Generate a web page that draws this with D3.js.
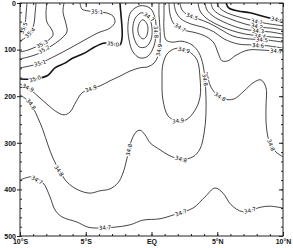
<!DOCTYPE html>
<html>
<head>
<meta charset="utf-8">
<script src="https://cdn.jsdelivr.net/npm/d3@7"></script>
<style>
  body { margin: 0; background: #fff; }
  svg { display: block; }
  .axis text { font-family: "Liberation Sans", Arial, sans-serif; font-weight: bold; font-size: 7px; fill: #111; }
  .axis path, .axis line { stroke: #222; }
  .clabel { font-family: "DejaVu Sans", sans-serif; font-size: 5.5px; fill: #000; }
</style>
</head>
<body>
<svg id="chart" width="293" height="248"></svg>
<script>
// salinity section 10S-10N, upper 500 m
var latTicks = [-10, -5, 0, 5, 10]
var latLabels = ['10°S', '5°S', 'EQ', '5°N', '10°N']
var depthTicks = [0, 100, 200, 300, 400, 500]

// each contour as [latitude, depth]
var s355 = [[-9.47, 0], [-9.54, 24], [-9.62, 45], [-9.85, 60], [-10, 64]]
var s354 = [[-8.78, 0], [-8.86, 24], [-8.94, 45], [-9.24, 64], [-9.62, 75], [-10, 82]]
var s353 = [[-7.95, 0], [-8.02, 19], [-7.95, 41], [-7.57, 58], [-7.49, 69], [-7.95, 82], [-8.63, 92], [-9.39, 101], [-10, 105]]
var s352 = [[-6.65, 0], [-6.73, 19], [-6.5, 45], [-6.43, 62], [-6.96, 79], [-7.72, 94], [-8.63, 109], [-9.39, 116], [-10, 120]]
var s351 = [[-5.44, 0], [-5.29, 13], [-4.83, 17], [-4.14, 19], [-3.46, 21], [-2.93, 28], [-2.78, 41], [-3.16, 54], [-4.07, 64],
  [-5.06, 79], [-6.2, 97], [-7.34, 114], [-8.48, 129], [-9.24, 135], [-10, 139]]
var s350 = [[-10, 163], [-8.86, 163], [-7.87, 155], [-7.34, 139], [-6.58, 129], [-5.97, 118], [-5.06, 107], [-4.3, 94],
  [-3.54, 86], [-2.93, 88], [-2.4, 90], [-2.24, 75], [-2.24, 54], [-2.32, 26], [-2.4, 0]]
var s349 = [[-10, 174], [-9.39, 182], [-8.63, 200], [-7.87, 219], [-7.19, 234], [-6.65, 240], [-6.2, 234], [-5.74, 212],
  [-5.29, 193], [-4.68, 185], [-3.92, 178], [-3.16, 167], [-2.4, 157], [-1.63, 146], [-0.87, 139], [-0.27, 137],
  [0.19, 129], [0.49, 114], [0.65, 90], [0.65, 58], [0.57, 26], [0.57, 0]]
var s348 = [[-10, 197], [-9.47, 208], [-9.01, 225], [-8.63, 247], [-8.25, 273], [-7.87, 305], [-7.49, 333], [-7.03, 358],
  [-6.43, 384], [-5.59, 401], [-4.68, 408], [-3.92, 403], [-3.16, 399], [-2.55, 386], [-2.17, 365], [-1.86, 333],
  [-1.56, 298], [-1.18, 277], [-0.87, 273], [-0.49, 283], [-0.11, 300], [0.65, 315], [1.41, 328], [2.24, 335],
  [3.16, 330], [3.69, 313], [3.99, 281], [4.14, 240], [4.14, 200], [4.07, 165], [3.92, 133], [3.61, 107],
  [3.08, 90], [2.32, 82], [1.56, 84], [1.1, 79], [0.95, 58], [0.95, 26], [0.95, 0]]
var s349oval = [[1.94, 97], [2.78, 103], [3.46, 122], [3.69, 161], [3.69, 202], [3.31, 230], [2.62, 251], [1.86, 253],
  [1.25, 242], [0.87, 208], [0.8, 165], [0.87, 131], [1.25, 107]]
var blobInner = [[-0.65, 36], [-0.34, 45], [-0.27, 58], [-0.42, 73], [-0.65, 77], [-0.95, 69], [-1.03, 54], [-0.87, 41]]
var blobMid = [[-0.72, 21], [-0.19, 32], [0.04, 54], [-0.04, 79], [-0.42, 94], [-0.95, 94], [-1.33, 75], [-1.41, 49], [-1.18, 30]]
var blobOuter = [[-0.87, 6], [-0.11, 11], [0.27, 32], [0.34, 62], [0.19, 92], [-0.27, 114], [-0.87, 118], [-1.41, 105],
  [-1.71, 79], [-1.79, 47], [-1.56, 19]]
var s347top = [[1.33, 0], [1.41, 24], [1.71, 45], [2.47, 58], [3.38, 64], [4.22, 73], [4.75, 86], [5.06, 107], [5.36, 124],
  [5.82, 124], [6.43, 112], [7.34, 101], [8.4, 101], [10, 105]]
var s346 = [[1.71, 0], [1.86, 19], [2.24, 34], [3.0, 45], [3.92, 52], [4.75, 62], [5.51, 77], [6.58, 88], [7.72, 90], [8.86, 92], [10, 97]]
var s345 = [[2.17, 0], [2.32, 15], [2.78, 26], [3.54, 34], [4.37, 43], [5.21, 56], [6.2, 71], [7.34, 77], [8.63, 79], [10, 84]]
var s344 = [[3.54, 0], [3.69, 17], [4.14, 32], [4.9, 45], [5.97, 58], [7.19, 67], [8.4, 71], [10, 75]]
var s343 = [[4.07, 0], [4.22, 15], [4.68, 28], [5.51, 41], [6.73, 54], [7.95, 60], [9.01, 62], [10, 67]]
var s342 = [[4.52, 0], [4.68, 13], [5.13, 24], [5.97, 34], [7.11, 45], [8.25, 52], [9.16, 54], [10, 58]]
var s341 = [[4.98, 0], [5.13, 9], [5.59, 19], [6.43, 28], [7.49, 36], [8.56, 43], [10, 49]]
var s340 = [[5.67, 0], [5.89, 11], [6.58, 17], [7.49, 21], [8.4, 28], [9.24, 34], [10, 39]]
var s348east = [[4.22, 148], [4.45, 176], [4.9, 195], [5.51, 206], [6.27, 206], [7.03, 189], [7.79, 170], [8.33, 165],
  [8.71, 182], [8.71, 219], [8.71, 255], [8.86, 288], [9.09, 305], [9.47, 320], [10, 330]]
var s347deep = [[-10, 380], [-9.09, 373], [-8.25, 386], [-7.72, 416], [-7.34, 444], [-6.81, 459], [-5.67, 470], [-4.83, 481],
  [-3.92, 483], [-2.78, 481], [-1.63, 476], [-0.65, 466], [0.65, 463], [1.86, 453], [3.16, 440], [4.07, 416],
  [4.83, 397], [5.44, 408], [6.05, 433], [6.96, 448], [8.33, 438], [9.01, 436], [10, 440]]

var boldLevels = [34.0, 35.0]

var contours = [
  { name: 's355', level: 35.5, pts: s355 },
  { name: 's354', level: 35.4, pts: s354 },
  { name: 's353', level: 35.3, pts: s353 },
  { name: 's352', level: 35.2, pts: s352 },
  { name: 's351', level: 35.1, pts: s351 },
  { name: 's350', level: 35.0, pts: s350 },
  { name: 's349', level: 34.9, pts: s349 },
  { name: 's348', level: 34.8, pts: s348 },
  { name: 's349oval', level: 34.9, pts: s349oval, closed: true },
  { name: 'blobInner', level: 34.6, pts: blobInner, closed: true },
  { name: 'blobMid', level: 34.7, pts: blobMid, closed: true },
  { name: 'blobOuter', level: 34.8, pts: blobOuter, closed: true },
  { name: 's347top', level: 34.7, pts: s347top },
  { name: 's346', level: 34.6, pts: s346 },
  { name: 's345', level: 34.5, pts: s345 },
  { name: 's344', level: 34.4, pts: s344 },
  { name: 's343', level: 34.3, pts: s343 },
  { name: 's342', level: 34.2, pts: s342 },
  { name: 's341', level: 34.1, pts: s341 },
  { name: 's340', level: 34.0, pts: s340 },
  { name: 's348east', level: 34.8, pts: s348east },
  { name: 's347deep', level: 34.7, pts: s347deep }
]

// where the contour labels sit: [contour, latitude, depth]
var labelSpots = [
  ['s355', -9.73, 54], ['s354', -9.24, 64], ['s353', -8.33, 88], ['s352', -8.17, 100], ['s351', -8.48, 129],
  ['s351', -4.14, 19], ['s350', -8.86, 163], ['s350', -2.93, 88], ['s349', -9.39, 182], ['s349', -4.6, 184],
  ['s349', 0.57, 101], ['s348', -9.16, 217], ['s348', -7.03, 360], ['s348', -1.71, 315], ['s348', 2.24, 335],
  ['s348', 4.07, 165], ['s349oval', 2.47, 101], ['s349oval', 2.02, 253], ['blobMid', -0.19, 30],
  ['blobOuter', 0.34, 62], ['s347top', 2.17, 53], ['s345', 3.08, 29], ['s340', 9.54, 36], ['s341', 8.02, 40],
  ['s342', 8.02, 50], ['s343', 8.1, 60], ['s344', 8.25, 71], ['s345', 8.4, 79], ['s346', 8.1, 91],
  ['s347top', 9.47, 103], ['s348east', 5.21, 201], ['s348east', 9.09, 305], ['s347deep', -8.71, 380],
  ['s347deep', -3.54, 482], ['s347deep', 2.24, 450], ['s347deep', 7.49, 445]
]

var svg = d3.select('#chart')
var x = d3.scaleLinear().domain([-10, 10]).range([20, 283])
var y = d3.scaleLinear().domain([0, 500]).range([3, 236])

svg.append('defs').append('clipPath').attr('id', 'plotClip')
  .append('rect')
  .attr('x', x(-10)).attr('y', y(0))
  .attr('width', x(10) - x(-10)).attr('height', y(500) - y(0))

var openLine = d3.line().x(d => x(d[0])).y(d => y(d[1])).curve(d3.curveCatmullRom.alpha(0.5))
var closedLine = d3.line().x(d => x(d[0])).y(d => y(d[1])).curve(d3.curveCatmullRomClosed.alpha(0.5))

var plot = svg.append('g').attr('clip-path', 'url(#plotClip)')
plot.selectAll('path.contour')
  .data(contours)
  .enter().append('path')
  .attr('class', 'contour')
  .attr('d', d => (d.closed ? closedLine : openLine)(d.pts))
  .attr('fill', 'none')
  .attr('stroke', '#151515')
  .attr('stroke-width', d => boldLevels.indexOf(d.level) >= 0 ? 1.6 : 0.8)

// label angle follows the nearest segment of its contour
function labelAngle(pts, lx, ly) {
  var best = 0, bd = Infinity
  for (var i = 0; i < pts.length - 1; i++) {
    var mx = (x(pts[i][0]) + x(pts[i + 1][0])) / 2
    var my = (y(pts[i][1]) + y(pts[i + 1][1])) / 2
    var dd = (mx - lx) * (mx - lx) + (my - ly) * (my - ly)
    if (dd < bd) { bd = dd; best = i }
  }
  var dx = x(pts[best + 1][0]) - x(pts[best][0])
  var dy = y(pts[best + 1][1]) - y(pts[best][1])
  var a = Math.atan2(dy, dx) * 180 / Math.PI
  if (a > 90) a -= 180
  if (a < -90) a += 180
  return a
}

var byName = {}
contours.forEach(c => { byName[c.name] = c })

svg.append('g').attr('clip-path', 'url(#plotClip)')
  .selectAll('text')
  .data(labelSpots)
  .enter().append('text')
  .attr('class', 'clabel')
  .attr('text-anchor', 'middle')
  .attr('dy', '0.35em')
  .attr('transform', d => {
    var lx = x(d[1]), ly = y(d[2])
    return 'translate(' + lx + ',' + ly + ') rotate(' + labelAngle(byName[d[0]].pts, lx, ly) + ')'
  })
  .attr('stroke', '#fff')
  .attr('stroke-width', 2)
  .attr('paint-order', 'stroke')
  .text(d => byName[d[0]].level.toFixed(1))

// axes: labels outside on left and bottom, ticks inside all round
var minorDepth = d3.range(0, 501, 20)
var minorLat = d3.range(-10, 10.01, 1)

function clean(g) {
  g.select('.domain').remove()
  return g
}

svg.append('g').attr('class', 'axis')
  .attr('transform', 'translate(' + x(-10) + ',0)')
  .call(d3.axisLeft(y).tickValues(depthTicks).tickSizeInner(3).tickSizeOuter(0).tickPadding(1))
  .call(clean)
svg.append('g').attr('class', 'axis')
  .attr('transform', 'translate(' + x(-10) + ',0)')
  .call(d3.axisRight(y).tickValues(minorDepth).tickSize(2).tickFormat(''))
  .call(clean)
svg.append('g').attr('class', 'axis')
  .attr('transform', 'translate(' + x(10) + ',0)')
  .call(d3.axisLeft(y).tickValues(minorDepth).tickSize(2).tickFormat(''))
  .call(clean)
svg.append('g').attr('class', 'axis')
  .attr('transform', 'translate(' + x(10) + ',0)')
  .call(d3.axisLeft(y).tickValues(depthTicks).tickSize(4).tickFormat(''))
  .call(clean)

svg.append('g').attr('class', 'axis')
  .attr('transform', 'translate(0,' + y(0) + ')')
  .call(d3.axisBottom(x).tickValues(minorLat).tickSize(2).tickFormat(''))
  .call(clean)
svg.append('g').attr('class', 'axis')
  .attr('transform', 'translate(0,' + y(0) + ')')
  .call(d3.axisBottom(x).tickValues(latTicks).tickSize(4).tickFormat(''))
  .call(clean)
svg.append('g').attr('class', 'axis')
  .attr('transform', 'translate(0,' + y(500) + ')')
  .call(d3.axisTop(x).tickValues(minorLat).tickSize(2).tickFormat(''))
  .call(clean)
svg.append('g').attr('class', 'axis')
  .attr('transform', 'translate(0,' + y(500) + ')')
  .call(d3.axisTop(x).tickValues(latTicks).tickSize(4).tickFormat(''))
  .call(clean)
svg.append('g').attr('class', 'axis')
  .attr('transform', 'translate(0,' + y(500) + ')')
  .call(d3.axisBottom(x).tickValues(latTicks).tickSize(0).tickPadding(3).tickFormat((d, i) => latLabels[i]))
  .call(clean)

// frame
svg.append('rect')
  .attr('x', x(-10)).attr('y', y(0))
  .attr('width', x(10) - x(-10)).attr('height', y(500) - y(0))
  .attr('fill', 'none')
  .attr('stroke', '#222')
  .attr('stroke-width', 1)
</script>
</body>
</html>
